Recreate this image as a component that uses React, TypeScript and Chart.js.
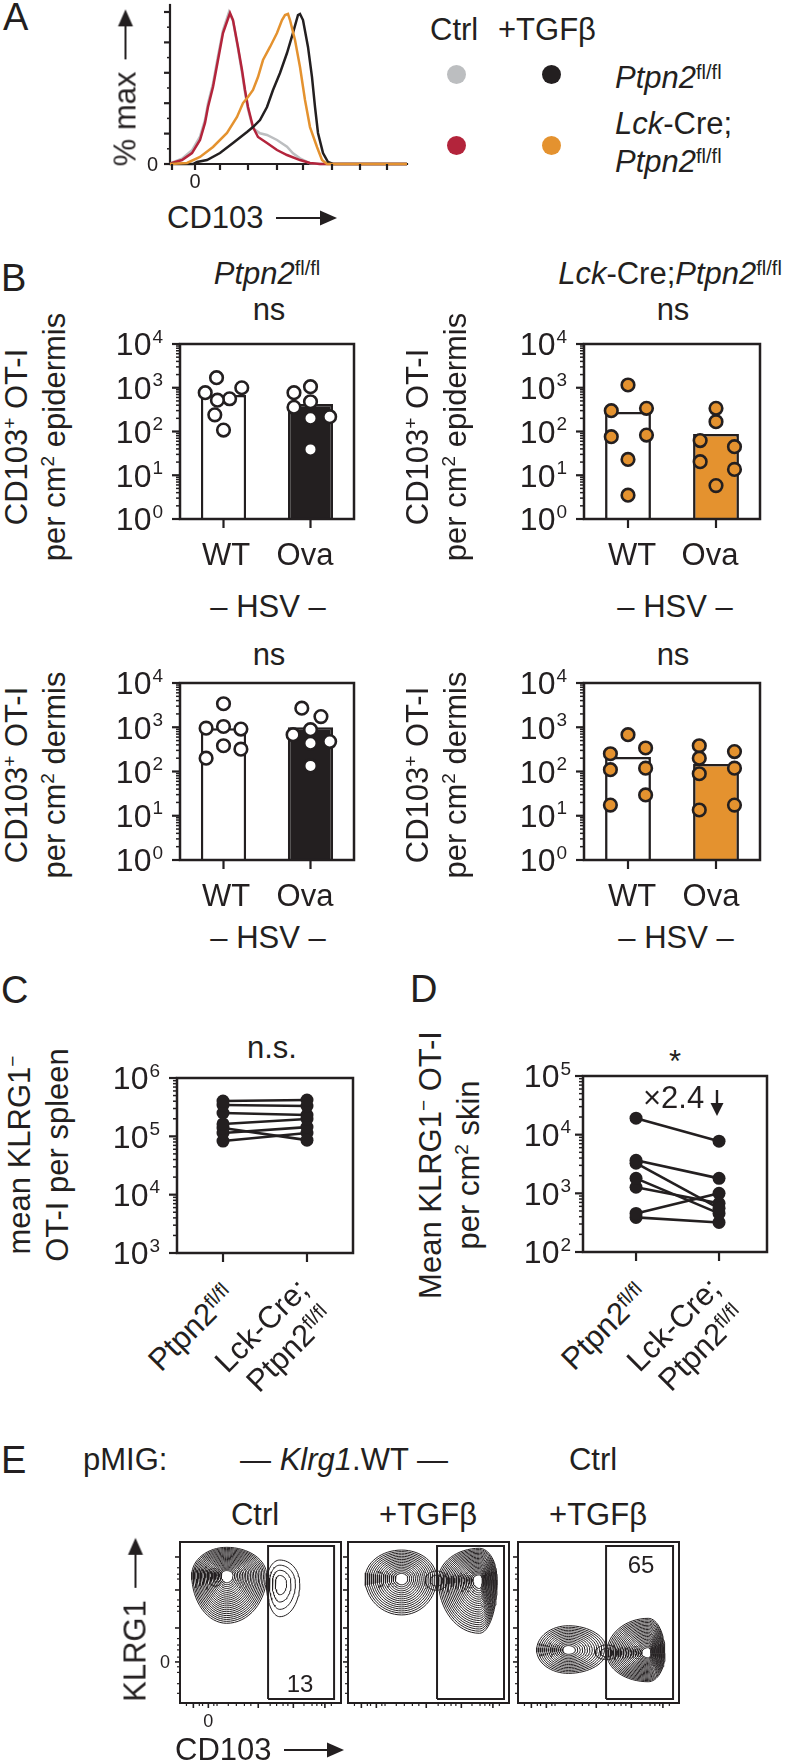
import React, { useEffect, useRef } from "react";
import { Chart, registerables } from "chart.js";

Chart.register(...registerables);

const INK = "#231f20";
const GRAY = "#bcbec0";
const RED = "#b3243b";
const ORANGE = "#e4922f";
const FONT = '"Liberation Sans", Arial, Helvetica, sans-serif';
const FS = 31;

// ---------------- Panel A: CD103 histograms (x: channel, y: % of max) ----------------
const histCtrlFlox = [[0,0],[2,1],[12,3.5],[22,9],[30,18],[35,29],[38,40],[43,53],[48,71],[53,88],[59,100],[63,94],[68,76],[72,60],[75,47],[78,36],[83,23.5],[90,20.2],[97,19.1],[107,15.8],[117,11.4],[123,7],[130,3.7],[140,0.4],[150,0],[237,0]];
const histCtrlCre = [[0,0],[2,0.7],[12,2.6],[22,7.2],[30,15.8],[35,27],[38,37.5],[43,50.7],[48,68.4],[53,86.2],[60,99.3],[63,94.7],[68,77],[72,61.8],[75,48.7],[78,37.5],[83,24.3],[88,17.8],[97,13.8],[107,9.2],[117,5.9],[130,2.6],[140,0.7],[150,0],[237,0]];
const histTgfFlox = [[0,0],[23,0],[27,1.3],[37,2.6],[50,7.2],[63,13.8],[77,21],[83,24.3],[90,28.9],[97,37.5],[103,48.7],[110,59.9],[117,73],[123,86.2],[128,98],[130,98.7],[133,94.7],[138,77],[142,57.2],[145,37.5],[148,20.4],[153,7.2],[158,1.3],[163,0],[237,0]];
const histTgfCre = [[0,0],[17,0.7],[30,4.6],[43,11.2],[57,20.4],[67,30.9],[73,40.1],[78,44.1],[83,48.7],[88,57.2],[93,68.4],[100,77],[107,86.2],[112,94.7],[115,98],[118,98.7],[120,94.7],[125,81.6],[130,63.8],[135,42.1],[140,24.3],[147,11.2],[152,2.6],[157,0],[237,0]];
const histXTicks = [2, 25, 50, 78, 107, 133, 162, 190, 217];
const histYTicks = [0, 20, 40, 60, 80, 100];
const histYMinor = [10, 30, 50, 70, 90];

// ---------------- Panel B: CD103+ OT-I per cm2 (bars = mean, dots = mice [jitter, value]) ----------------
const bCategories = ["WT", "Ova"];
const epiFloxBars = [682, 427];
const epiFloxWT = [[-0.08,1700],[-0.21,770],[0.21,1000],[0.07,560],[-0.07,520],[-0.1,240],[0,108]];
const epiFloxOva = [[-0.19,771],[0,1057],[-0.19,357],[0,479],[0,200],[0.22,218],[0,39]];
const epiCreBars = [279, 88];
const epiCreWT = [[0,1156],[-0.19,299],[0.21,339],[-0.19,76],[0.21,83],[0,23],[0,3.5]];
const epiCreOva = [[0,339],[0,168],[-0.18,62],[0.21,45],[-0.18,20.4],[0.21,13.6],[0,5.8]];
const derFloxBars = [950, 1000];
const derFloxWT = [[0,3400],[-0.2,955],[0,1040],[0.2,910],[0,382],[0.2,320],[-0.2,200]];
const derFloxOva = [[-0.1,2700],[0.12,1740],[-0.2,680],[0,880],[0,436],[0.22,475],[0,134]];
const derCreBars = [212, 147];
const derCreWT = [[0,680],[-0.2,252],[0.2,340],[-0.2,110],[0.2,119],[0.2,29.5],[-0.2,17.4]];
const derCreOva = [[-0.19,382],[-0.19,200],[0.21,282],[-0.19,89],[0.21,119],[-0.19,13.5],[0.21,17.4]];
const bDecades = [1, 10, 100, 1000, 10000];
const bExps = ["0", "1", "2", "3", "4"];

// ---------------- Panel C / D: paired [Ptpn2fl/fl, Lck-Cre;Ptpn2fl/fl] ----------------
const spleenPairs = [[403000,420000],[344000,331000],[251000,232000],[163000,198000],[139000,86000],[114000,144000],[83000,114000]];
const spleenDecades = [1e3, 1e4, 1e5, 1e6];
const spleenExps = ["3", "4", "5", "6"];
const skinPairs = [[19100,7740],[3660,1800],[3260,555],[1800,455],[1270,676],[455,1000],[389,319]];
const skinDecades = [1e2, 1e3, 1e4, 1e5];
const skinExps = ["2", "3", "4", "5"];

// ---------------- Panel E: contour populations [cx, cy, rxLeft, rxRight, ryTop, ryBottom, levels] ----------------
const flowCtrlPops = [[29,79.5,21.7,24.8,17.2,30,22],[62,74.3,8.3,12.4,14.5,20.7,4]];
const flowTgfPops = [[33.3,77.4,22.7,21.8,17.6,22.7,16],[55,76,7,7,6,6,2],[81.6,76.4,25.5,11.1,19.7,33.1,22]];
const flowCtrlTgfPops = [[31.3,32.9,19.7,23.8,15.1,14.5,14],[55,31,7,7,5,4,2],[80.9,30.9,25.8,10.4,21.7,17.7,22]];
const flowGates = [[54.7,95.7,2.5,97.5],[55.3,96.9,2.5,97.5],[54.7,96.3,2.5,97.5]];
const flowYTicks = [90.7, 70.2, 46.6, 25.5];
const flowYMinor = [84, 80, 77, 64, 60, 57, 40, 36, 33, 28.5, 22.5, 19, 12, 6];
const flowXTicks = [8.3, 17.6, 48.6, 70.4, 90];
const flowXMinor = [4, 12, 14, 21, 23, 30, 35, 40, 44, 56, 60, 64, 67, 77, 82, 85, 88, 94];

// ---------------- helpers ----------------
const minorLog = (min: number, max: number) => {
  const out: number[] = [];
  for (let d = min; d < max; d *= 10) for (let m = 2; m <= 9; m++) out.push(d * m);
  return out;
};

function decor(d: any) {
  const line = (ctx: any, x1: number, y1: number, x2: number, y2: number, w: number) => {
    ctx.lineWidth = w;
    ctx.beginPath();
    ctx.moveTo(x1, y1);
    ctx.lineTo(x2, y2);
    ctx.stroke();
  };
  return {
    id: "decor",
    beforeDatasetsDraw(chart: any) {
      if (!d.axes) return;
      const { ctx, chartArea: a } = chart;
      ctx.save();
      ctx.strokeStyle = INK;
      ctx.lineCap = "square";
      line(ctx, a.left, a.top, a.left, a.bottom, d.axes);
      line(ctx, a.left, a.bottom, a.right, a.bottom, d.axes);
      ctx.restore();
    },
    afterDraw(chart: any) {
      const { ctx, chartArea: a } = chart;
      const xs = chart.scales[d.xId || "x"];
      const ys = chart.scales[d.yId || "y"];
      ctx.save();
      ctx.strokeStyle = INK;
      ctx.fillStyle = INK;
      if (d.frame) {
        ctx.lineWidth = d.frame;
        ctx.strokeRect(a.left, a.top, a.right - a.left, a.bottom - a.top);
      }
      for (const v of d.yTicks || []) { const p = ys.getPixelForValue(v); line(ctx, a.left, p, a.left - (d.yLen ?? 8), p, d.tickW ?? 2.2); }
      for (const v of d.yMinor || []) { const p = ys.getPixelForValue(v); line(ctx, a.left, p, a.left - (d.yMinorLen ?? 4), p, d.minorW ?? 1.5); }
      for (const v of d.xTicks || []) { const p = xs.getPixelForValue(v); line(ctx, p, a.bottom, p, a.bottom + (d.xLen ?? 8), d.tickW ?? 2.2); }
      for (const v of d.xMinor || []) { const p = xs.getPixelForValue(v); line(ctx, p, a.bottom, p, a.bottom + (d.xMinorLen ?? 3), d.minorW ?? 1.5); }
      const fs = d.fs ?? 32;
      const es = d.es ?? 19;
      ctx.textBaseline = "alphabetic";
      for (const l of d.yLabels || []) {
        const p = ys.getPixelForValue(l.v);
        let x = a.left - (d.yGap ?? 16);
        if (l.e) {
          ctx.font = `${es}px ${FONT}`;
          const w = ctx.measureText(l.e).width;
          ctx.textAlign = "left";
          ctx.fillText(l.e, x - w, p - 1.5);
          x -= w + 1;
        }
        ctx.font = `${fs}px ${FONT}`;
        ctx.textAlign = "right";
        ctx.fillText(l.t, x, p + fs * 0.358);
      }
      for (const l of d.xLabels || []) {
        const p = xs.getPixelForValue(l.v);
        ctx.font = `${fs}px ${FONT}`;
        ctx.textAlign = "center";
        ctx.fillText(l.t, p, a.bottom + (d.xBase ?? 24));
      }
      ctx.restore();
    },
  };
}

type Rect = { x: number; y: number; w: number; h: number };
type Area = { l: number; t: number; r: number; b: number };

function ChartCanvas({ box, area, make }: { box: Rect; area: Area; make: () => any }) {
  const ref = useRef<HTMLCanvasElement | null>(null);
  useEffect(() => {
    const cfg = make();
    cfg.options = cfg.options || {};
    cfg.options.responsive = false;
    cfg.options.animation = false;
    cfg.options.devicePixelRatio = 1;
    cfg.options.events = [];
    cfg.options.layout = {
      padding: { left: area.l - box.x, top: area.t - box.y, right: box.x + box.w - area.r, bottom: box.y + box.h - area.b },
    };
    cfg.options.plugins = { ...(cfg.options.plugins || {}), legend: { display: false }, tooltip: { enabled: false } };
    const chart = new Chart(ref.current as HTMLCanvasElement, cfg);
    return () => chart.destroy();
  }, []);
  return (
    <canvas ref={ref} width={box.w} height={box.h}
      style={{ position: "absolute", left: box.x, top: box.y, width: box.w, height: box.h }} />
  );
}

// ---------------- chart configs ----------------
function histConfig() {
  const curves = [
    { d: histTgfCre, c: ORANGE },
    { d: histTgfFlox, c: INK },
    { d: histCtrlCre, c: RED },
    { d: histCtrlFlox, c: GRAY },
  ];
  return {
    type: "scatter",
    data: {
      datasets: curves.map((k) => ({
        data: k.d.map(([x, y]) => ({ x, y })),
        showLine: true, pointRadius: 0, borderColor: k.c, borderWidth: 2.5, fill: false, clip: false,
      })),
    },
    options: {
      scales: {
        x: { type: "linear", min: 0, max: 237, display: false },
        y: { type: "linear", min: 0, max: 104.6, display: false },
      },
    },
    plugins: [decor({
      axes: 2.2, yTicks: histYTicks, yLen: 6, yMinor: histYMinor, yMinorLen: 3,
      xTicks: histXTicks, xLen: 6, yLabels: [{ v: 0, t: "0" }], xLabels: [{ v: 25, t: "0" }],
      fs: 20, yGap: 12, xBase: 24,
    })],
  };
}

function barConfig(bars: number[], wt: number[][], ova: number[][], ovaFill: string, dotFill: string) {
  const pts = [
    ...wt.map(([dx, v]) => ({ x: 0 + dx, y: v })),
    ...ova.map(([dx, v]) => ({ x: 1 + dx, y: v })),
  ];
  return {
    type: "bar",
    data: {
      labels: bCategories,
      datasets: [
        { type: "scatter", data: pts, xAxisID: "xj", yAxisID: "y", pointRadius: 6.3,
          pointBackgroundColor: dotFill, pointBorderColor: INK, pointBorderWidth: 2.6, order: 0 },
        { type: "bar", data: bars, xAxisID: "x", yAxisID: "y", backgroundColor: ["#ffffff", ovaFill],
          borderColor: INK, borderWidth: 2.5, barPercentage: 0.52, categoryPercentage: 1, grouped: false, order: 1 },
      ],
    },
    options: {
      scales: {
        x: { type: "category", display: false, offset: true },
        xj: { type: "linear", display: false, min: -0.5, max: 1.5, offset: false },
        y: { type: "logarithmic", display: false, min: 1, max: 10000, beginAtZero: false },
      },
    },
    plugins: [decor({
      frame: 2.5, xId: "xj", yId: "y", yTicks: bDecades, yMinor: minorLog(1, 10000), yLen: 8, yMinorLen: 4,
      xTicks: [0, 1], xLen: 9, yLabels: bDecades.map((v, i) => ({ v, t: "10", e: bExps[i] })), yGap: 17,
    })],
  };
}

function pairConfig(pairs: number[][], decs: number[], exps: string[], xMin: number, xMax: number, gap: number) {
  return {
    type: "scatter",
    data: {
      datasets: pairs.map(([l, r]) => ({
        data: [{ x: 0, y: l }, { x: 1, y: r }],
        showLine: true, borderColor: INK, borderWidth: 2.6, pointRadius: 6.5,
        pointBackgroundColor: INK, pointBorderColor: INK, pointBorderWidth: 0, fill: false,
      })),
    },
    options: {
      scales: {
        x: { type: "linear", min: xMin, max: xMax, display: false },
        y: { type: "logarithmic", min: decs[0], max: decs[decs.length - 1], display: false },
      },
    },
    plugins: [decor({
      frame: 2.5, yTicks: decs, yMinor: minorLog(decs[0], decs[decs.length - 1]), yLen: 8, yMinorLen: 4,
      xTicks: [0, 1], xLen: 9, yLabels: decs.map((v, i) => ({ v, t: "10", e: exps[i] })), yGap: gap,
    })],
  };
}

function ring(p: number[], f: number) {
  const [cx, cy, rxL, rxR, ryT, ryB] = p;
  const pts: { x: number; y: number }[] = [];
  const n = 64;
  for (let i = 0; i <= n; i++) {
    const th = (i / n) * Math.PI * 2;
    const c = Math.cos(th);
    const s = Math.sin(th);
    pts.push({ x: cx + f * (c >= 0 ? rxR : rxL) * c, y: cy + f * (s >= 0 ? ryT : ryB) * s });
  }
  return pts;
}

function flowConfig(pops: number[][], gate: number[], first: boolean) {
  const datasets: any[] = [];
  for (const p of pops) {
    const n = p[6];
    for (let k = 0; k < n; k++) {
      const f = 1 - (k / n) * 0.88;
      datasets.push({ data: ring(p, f), showLine: true, pointRadius: 0, borderColor: INK, borderWidth: 1, fill: false, clip: false });
    }
  }
  const [x0, x1, y0, y1] = gate;
  datasets.push({
    data: [{ x: x0, y: y0 }, { x: x1, y: y0 }, { x: x1, y: y1 }, { x: x0, y: y1 }, { x: x0, y: y0 }],
    showLine: true, pointRadius: 0, borderColor: INK, borderWidth: 2, fill: false, clip: false,
  });
  return {
    type: "scatter",
    data: { datasets },
    options: {
      scales: {
        x: { type: "linear", min: 0, max: 100, display: false },
        y: { type: "linear", min: 0, max: 100, display: false },
      },
    },
    plugins: [decor({
      frame: 2, yTicks: flowYTicks, yMinor: flowYMinor, yLen: 5, yMinorLen: 3,
      xTicks: flowXTicks, xMinor: flowXMinor, xLen: 5, xMinorLen: 3, tickW: 1.6, minorW: 1.2,
      yLabels: first ? [{ v: 25.5, t: "0" }] : [], xLabels: first ? [{ v: 17.6, t: "0" }] : [],
      fs: 18, yGap: 10, xBase: 24,
    })],
  };
}

// ---------------- text helpers ----------------
function T({ x, y, s = FS, a = "s", it = false, children }: any) {
  const tx = a === "m" ? "translateX(-50%)" : a === "e" ? "translateX(-100%)" : "none";
  return (
    <div style={{ position: "absolute", left: x, top: y - 0.8465 * s, fontSize: s, lineHeight: `${s}px`,
      whiteSpace: "nowrap", fontStyle: it ? "italic" : "normal", transform: tx }}>{children}</div>
  );
}
const Sup = ({ children, s = 19, r = 11 }: any) => (
  <span style={{ fontSize: s, position: "relative", top: -r, lineHeight: 0, fontStyle: "normal" }}>{children}</span>
);
const I = ({ children }: any) => <span style={{ fontStyle: "italic" }}>{children}</span>;
const Ptpn = () => (<><I>Ptpn2</I><Sup s={20} r={9}>fl/fl</Sup></>);
const PtpnUp = () => (<>Ptpn2<Sup s={20} r={9}>fl/fl</Sup></>);

function VText({ cx, cy, lines, s = FS, lh = 38 }: any) {
  return (
    <div style={{ position: "absolute", left: cx, top: cy, fontSize: s, lineHeight: `${lh}px`, whiteSpace: "nowrap",
      textAlign: "center", transform: "translate(-50%, -50%) rotate(-90deg)" }}>
      {lines.map((l: any, i: number) => <div key={i}>{l}</div>)}
    </div>
  );
}
function RotLabel({ x, y, s = FS, children }: any) {
  return (
    <div style={{ position: "absolute", left: x, top: y, fontSize: s, lineHeight: `${s}px`, whiteSpace: "nowrap",
      transform: "translate(-100%, -50%) rotate(-45deg)", transformOrigin: "100% 50%" }}>{children}</div>
  );
}
function Arrow({ len, gap = 12 }: any) {
  return (
    <svg width={len} height={20} style={{ marginLeft: gap, verticalAlign: "baseline", overflow: "visible" }}>
      <line x1={0} y1={10} x2={len - 10} y2={10} stroke={INK} strokeWidth={2.2} />
      <polygon points={`${len - 17},2.5 ${len},10 ${len - 17},17.5`} fill={INK} />
    </svg>
  );
}
function DownArrow({ x, y1, y2 }: any) {
  const h = y2 - y1;
  return (
    <svg width={16} height={h} style={{ position: "absolute", left: x - 8, top: y1, overflow: "visible" }}>
      <line x1={8} y1={0} x2={8} y2={h - 8} stroke={INK} strokeWidth={2.4} />
      <polygon points={`1.5,${h - 13} 8,${h} 14.5,${h - 13}`} fill={INK} />
    </svg>
  );
}
const Dot = ({ x, y, c }: any) => (
  <div style={{ position: "absolute", left: x - 9.5, top: y - 9.5, width: 19, height: 19, borderRadius: 10, background: c }} />
);

const CD103plus = () => (<>CD103<Sup>+</Sup> OT-I</>);

export default function App() {
  useEffect(() => {
    document.body.style.margin = "0";
    document.body.style.background = "#ffffff";
  }, []);
  return (
    <div style={{ position: "relative", width: 787, height: 1763, overflow: "hidden", background: "#fff",
      fontFamily: FONT, color: INK }}>
      {/* panel letters */}
      <T x={3} y={30} s={38}>A</T>
      <T x={1} y={291} s={38}>B</T>
      <T x={1} y={1003} s={38}>C</T>
      <T x={410} y={1002} s={38}>D</T>
      <T x={1} y={1473} s={38}>E</T>

      {/* ---------- A ---------- */}
      <ChartCanvas box={{ x: 130, y: 0, w: 290, h: 200 }} area={{ l: 170, t: 5, r: 407, b: 164 }} make={histConfig} />
      <div style={{ position: "absolute", left: 124.6, top: 88, fontSize: FS, lineHeight: `${FS}px`, whiteSpace: "nowrap",
        transform: "translate(-50%, -50%) rotate(-90deg)" }}>% max<Arrow len={50} gap={12} /></div>
      <T x={167} y={228}>CD103<Arrow len={61} gap={12} /></T>
      <T x={430} y={40}>Ctrl</T>
      <T x={498} y={40}>+TGFβ</T>
      <Dot x={456} y={74} c={GRAY} />
      <Dot x={551} y={74} c={INK} />
      <Dot x={456} y={145} c={RED} />
      <Dot x={551} y={145} c={ORANGE} />
      <T x={615} y={88}><Ptpn /></T>
      <T x={615} y={134}><I>Lck</I>-Cre;</T>
      <T x={615} y={172}><Ptpn /></T>

      {/* ---------- B ---------- */}
      <T x={267} y={284} a="m"><Ptpn /></T>
      <T x={670} y={284} a="m"><I>Lck</I>-Cre;<Ptpn /></T>
      <T x={269} y={320} a="m">ns</T>
      <T x={673} y={320} a="m">ns</T>
      <T x={269} y={665} a="m">ns</T>
      <T x={673} y={665} a="m">ns</T>
      <ChartCanvas box={{ x: 100, y: 325, w: 270, h: 215 }} area={{ l: 180, t: 344, r: 354, b: 519 }}
        make={() => barConfig(epiFloxBars, epiFloxWT, epiFloxOva, INK, "#ffffff")} />
      <ChartCanvas box={{ x: 505, y: 325, w: 275, h: 215 }} area={{ l: 584, t: 344, r: 760, b: 519 }}
        make={() => barConfig(epiCreBars, epiCreWT, epiCreOva, ORANGE, ORANGE)} />
      <ChartCanvas box={{ x: 100, y: 664, w: 270, h: 215 }} area={{ l: 180, t: 683, r: 354, b: 860 }}
        make={() => barConfig(derFloxBars, derFloxWT, derFloxOva, INK, "#ffffff")} />
      <ChartCanvas box={{ x: 505, y: 664, w: 275, h: 215 }} area={{ l: 584, t: 683, r: 760, b: 860 }}
        make={() => barConfig(derCreBars, derCreWT, derCreOva, ORANGE, ORANGE)} />
      <T x={226} y={565} a="m">WT</T>
      <T x={305} y={565} a="m">Ova</T>
      <T x={632} y={565} a="m">WT</T>
      <T x={710} y={565} a="m">Ova</T>
      <T x={226} y={906} a="m">WT</T>
      <T x={305} y={906} a="m">Ova</T>
      <T x={632} y={906} a="m">WT</T>
      <T x={711} y={906} a="m">Ova</T>
      <T x={268} y={617} a="m">– HSV –</T>
      <T x={675} y={617} a="m">– HSV –</T>
      <T x={268} y={948} a="m">– HSV –</T>
      <T x={676} y={948} a="m">– HSV –</T>
      <VText cx={36} cy={437} lines={[<CD103plus />, <>per cm<Sup>2</Sup> epidermis</>]} />
      <VText cx={437} cy={437} lines={[<CD103plus />, <>per cm<Sup>2</Sup> epidermis</>]} />
      <VText cx={36} cy={775} lines={[<CD103plus />, <>per cm<Sup>2</Sup> dermis</>]} />
      <VText cx={437} cy={775} lines={[<CD103plus />, <>per cm<Sup>2</Sup> dermis</>]} />

      {/* ---------- C ---------- */}
      <T x={272} y={1058} a="m">n.s.</T>
      <ChartCanvas box={{ x: 95, y: 1058, w: 275, h: 215 }} area={{ l: 177, t: 1078, r: 353, b: 1253 }}
        make={() => pairConfig(spleenPairs, spleenDecades, spleenExps, -0.548, 1.548, 17)} />
      <VText cx={39} cy={1155} lines={[<>mean KLRG1<Sup>−</Sup></>, <>OT-I per spleen</>]} />
      <RotLabel x={229} y={1290}><PtpnUp /></RotLabel>
      <RotLabel x={303} y={1284}>Lck-Cre;</RotLabel>
      <RotLabel x={327} y={1311}><PtpnUp /></RotLabel>

      {/* ---------- D ---------- */}
      <T x={675} y={1072} a="m">*</T>
      <ChartCanvas box={{ x: 505, y: 1056, w: 275, h: 215 }} area={{ l: 583, t: 1076, r: 767, b: 1252 }}
        make={() => pairConfig(skinPairs, skinDecades, skinExps, -0.639, 1.578, 12)} />
      <T x={643} y={1108}>×2.4</T>
      <DownArrow x={717} y1={1090} y2={1116} />
      <VText cx={450} cy={1165} lines={[<>Mean KLRG1<Sup>−</Sup> OT-I</>, <>per cm<Sup>2</Sup> skin</>]} />
      <RotLabel x={642} y={1289}><PtpnUp /></RotLabel>
      <RotLabel x={715} y={1283}>Lck-Cre;</RotLabel>
      <RotLabel x={739} y={1310}><PtpnUp /></RotLabel>

      {/* ---------- E ---------- */}
      <T x={83} y={1470}>pMIG:</T>
      <T x={344} y={1470} a="m">— <I>Klrg1</I>.WT —</T>
      <T x={593} y={1470} a="m">Ctrl</T>
      <T x={255} y={1525} a="m">Ctrl</T>
      <T x={428} y={1525} a="m">+TGFβ</T>
      <T x={598} y={1525} a="m">+TGFβ</T>
      <ChartCanvas box={{ x: 145, y: 1530, w: 205, h: 210 }} area={{ l: 180, t: 1542, r: 341, b: 1703 }}
        make={() => flowConfig(flowCtrlPops, flowGates[0], true)} />
      <ChartCanvas box={{ x: 340, y: 1530, w: 175, h: 200 }} area={{ l: 348, t: 1542, r: 509, b: 1703 }}
        make={() => flowConfig(flowTgfPops, flowGates[1], false)} />
      <ChartCanvas box={{ x: 510, y: 1530, w: 175, h: 200 }} area={{ l: 518, t: 1542, r: 679, b: 1703 }}
        make={() => flowConfig(flowCtrlTgfPops, flowGates[2], false)} />
      <T x={300} y={1692} s={24} a="m">13</T>
      <T x={641} y={1573} s={24} a="m">65</T>
      <div style={{ position: "absolute", left: 134.6, top: 1620, fontSize: FS, lineHeight: `${FS}px`, whiteSpace: "nowrap",
        transform: "translate(-50%, -50%) rotate(-90deg)" }}>KLRG1<Arrow len={50} gap={12} /></div>
      <T x={175} y={1760}>CD103<Arrow len={60} gap={12} /></T>
    </div>
  );
}
